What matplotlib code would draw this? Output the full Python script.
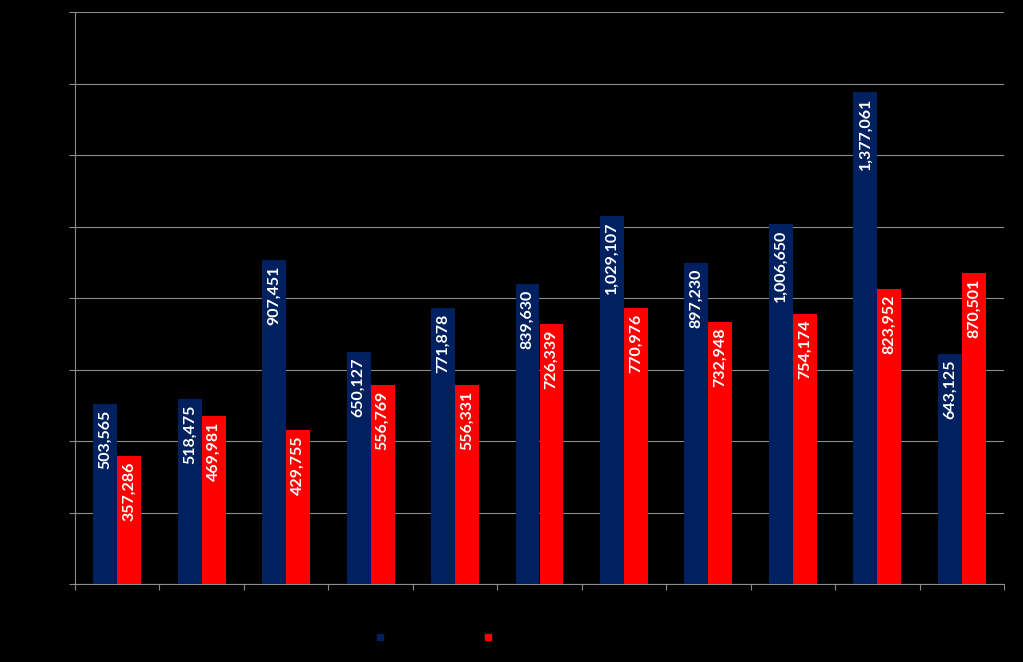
import matplotlib
matplotlib.use("Agg")
import matplotlib.pyplot as plt
from matplotlib.lines import Line2D
import numpy as np

categories = ["1", "2", "3", "4", "5", "6", "7", "8", "9", "10", "11"]
series_a = [503565, 518475, 907451, 650127, 771878, 839630, 1029107, 897230, 1006650, 1377061, 643125]
series_b = [357286, 469981, 429755, 556769, 556331, 726339, 770976, 732948, 754174, 823952, 870501]
series_names = ["Series 1", "Series 2"]
y_ticks = [0, 200000, 400000, 600000, 800000, 1000000, 1200000, 1400000, 1600000]

blue = "#002060"
red = "#FF0000"
grid_col = "#8c8c8c"

fig = plt.figure(figsize=(10.23, 6.62), dpi=100, facecolor="black")
ax = fig.add_axes([75/1023, 1-584/662, (1004-75)/1023, (584-12)/662])
ax.set_facecolor("black")

x = np.arange(len(categories))
w = 0.284
ax.bar(x - w/2, series_a, width=w, color=blue, zorder=3)
ax.bar(x + w/2, series_b, width=w, color=red, zorder=3)

for xi, v in zip(x - w/2, series_a):
    ax.annotate(f"{v:,}", (xi, v), xytext=(0, -4), textcoords="offset points",
                rotation=90, ha="center", va="top", color="white",
                fontsize=11.5, fontweight="bold", family="Lato", zorder=4)
for xi, v in zip(x + w/2, series_b):
    ax.annotate(f"{v:,}", (xi, v), xytext=(0, -4), textcoords="offset points",
                rotation=90, ha="center", va="top", color="white",
                fontsize=11.5, fontweight="bold", family="Lato", zorder=4)

ax.set_xlim(-0.5, len(categories) - 0.5)
ax.set_ylim(0, 1600000)
ax.set_yticks(y_ticks)
ax.set_yticklabels([f"{t:,}" for t in y_ticks], color="black", fontsize=7)
ax.set_xticks(x)
ax.set_xticklabels(categories, color="black", fontsize=8)
ax.set_xticks(np.arange(-0.5, len(categories), 1), minor=True)
ax.tick_params(axis="x", which="major", length=0)
ax.tick_params(axis="x", which="minor", length=4, color=grid_col, width=0.8)
ax.tick_params(axis="y", length=4, color=grid_col, width=0.8, pad=2)
ax.grid(axis="y", color=grid_col, linewidth=0.8, zorder=0)
for s in ["top", "right"]:
    ax.spines[s].set_visible(False)
for s in ["left", "bottom"]:
    ax.spines[s].set_color(grid_col)
    ax.spines[s].set_linewidth(0.8)

handles = [Line2D([], [], marker="s", linestyle="none", markersize=5, color=blue),
           Line2D([], [], marker="s", linestyle="none", markersize=5, color=red)]
leg = fig.legend(handles, series_names, loc="center left",
                 bbox_to_anchor=(359/1023, 1-638/662), ncol=2, frameon=False,
                 handlelength=1, handletextpad=0.4, columnspacing=1.6,
                 fontsize=11, labelcolor="black")

fig.savefig("out.png", dpi=100, facecolor="black")
